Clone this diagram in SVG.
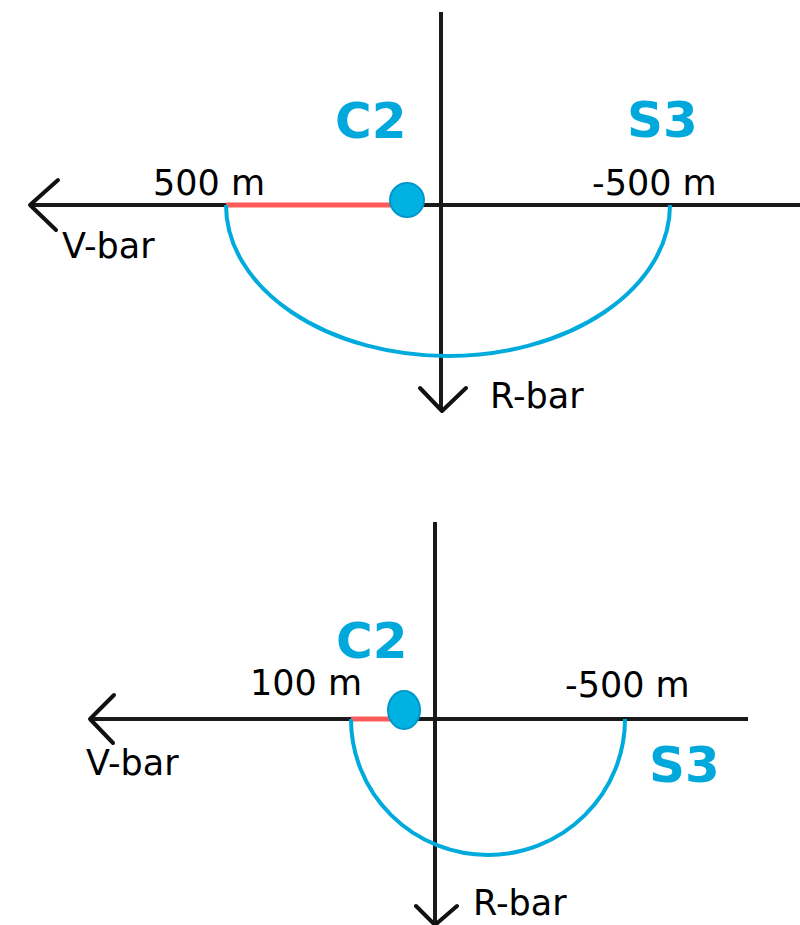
<svg xmlns="http://www.w3.org/2000/svg" width="800" height="925" viewBox="0 0 800 925">
<style>
.axis{stroke:#1a1a1a;stroke-width:4;fill:none}
.head{stroke:#111;stroke-width:4;fill:none;stroke-linecap:round;stroke-linejoin:round}
.arc{stroke:#00aadd;stroke-width:4;fill:none}
.red{stroke:#ff5a5a;stroke-width:5;fill:none}
.dot{fill:#00b2e2;stroke:#0098c8;stroke-width:2}
.lbl{font-family:"DejaVu Sans",Verdana,sans-serif;font-size:35px;fill:#000}
.big{font-family:"DejaVu Sans",Verdana,sans-serif;font-size:50px;font-weight:bold;fill:#00a8dc}
</style>
<rect width="800" height="925" fill="#fff"/>
<g id="connectors">
  <!-- top diagram -->
  <line class="axis" x1="30" y1="205" x2="800" y2="205"/>
  <polyline class="head" points="58,180 30,205 56,230"/>
  <line class="axis" x1="441" y1="12" x2="441" y2="410"/>
  <polyline class="head" points="420,388 442,411 466,388"/>
  <line class="red" x1="226" y1="205" x2="395" y2="205"/>
  <path class="arc" d="M226,205 A222,151 0 0 0 670,205"/>
  <!-- bottom diagram -->
  <line class="axis" x1="90" y1="719" x2="748" y2="719"/>
  <polyline class="head" points="114,695 90,719 113,743"/>
  <line class="axis" x1="435" y1="522" x2="435" y2="925"/>
  <polyline class="head" points="416,906 435,925 457,906"/>
  <line class="red" x1="351" y1="719" x2="392" y2="719"/>
  <path class="arc" d="M351,719 A137,136 0 0 0 625,719"/>
</g>
<g id="C2-top">
  <circle class="dot" cx="407" cy="200" r="17"/>
  <text class="big" x="335" y="138">C2</text>
</g>
<g id="S3-top">
  <text class="big" x="627" y="137">S3</text>
</g>
<g id="labels-top">
  <text class="lbl" x="153" y="195">500 m</text>
  <text class="lbl" x="592" y="195">-500 m</text>
  <text class="lbl" x="62" y="258">V-bar</text>
  <text class="lbl" x="490" y="408">R-bar</text>
</g>
<g id="C2-bottom">
  <ellipse class="dot" cx="404" cy="710" rx="16" ry="19"/>
  <text class="big" x="336" y="658">C2</text>
</g>
<g id="S3-bottom">
  <text class="big" x="649" y="782">S3</text>
</g>
<g id="labels-bottom">
  <text class="lbl" x="250" y="695">100 m</text>
  <text class="lbl" x="565" y="697">-500 m</text>
  <text class="lbl" x="86" y="775">V-bar</text>
  <text class="lbl" x="473" y="915">R-bar</text>
</g>
</svg>
